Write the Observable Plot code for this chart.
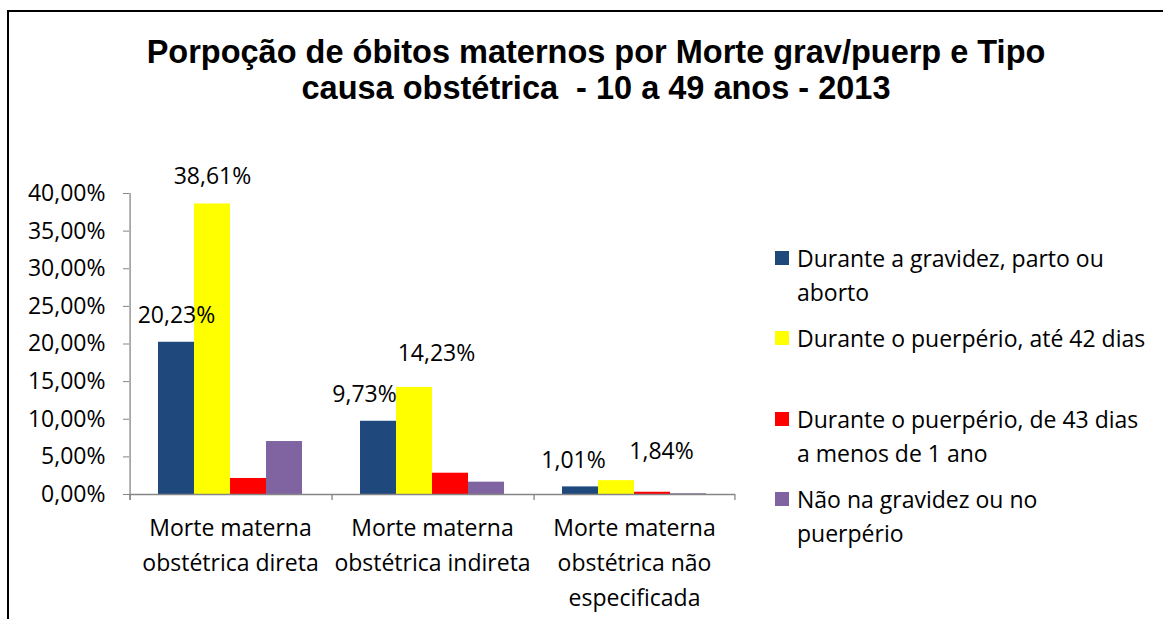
<!DOCTYPE html>
<html>
<head>
<meta charset="utf-8">
<script src="https://cdn.jsdelivr.net/npm/d3@7"></script>
<script src="https://cdn.jsdelivr.net/npm/@observablehq/plot@0.6"></script>
<style>
  html, body { margin: 0; padding: 0; background: #fff; }
  #root { position: relative; width: 1163px; height: 619px; overflow: hidden; background: #fff; font-family: "Open Sans", Lato, sans-serif; }
  #border { position: absolute; left: 7px; top: 10px; right: -10px; bottom: -10px; border-top: 2px solid #000; border-left: 2px solid #000; }
  #title { position: absolute; left: 0; width: 1192px; top: 34px; text-align: center; font-family: "Liberation Sans", Arial, sans-serif; font-weight: bold; font-size: 32.5px; line-height: 36px; color: #000; white-space: pre; }
  #chart { position: absolute; left: 0; top: 0; }
  #legend { position: absolute; left: 775px; top: 0; }
  .item { position: absolute; left: 0; white-space: pre; font-size: 23px; line-height: 34px; color: #000; padding-left: 22px; }
  .sw { position: absolute; left: 0; top: 10px; width: 14px; height: 14px; }
</style>
</head>
<body>
<div id="root">
  <div id="border"></div>
  <div id="title"></div>
  <div id="chart"></div>
  <div id="legend"></div>
</div>
<script>
const titleLines = ["Porpoção de óbitos maternos por Morte grav/puerp e Tipo", "causa obstétrica  - 10 a 49 anos - 2013"];
const categories = ["Morte materna obstétrica direta", "Morte materna obstétrica indireta", "Morte materna obstétrica não especificada"];
const categoryLabels = ["Morte materna\nobstétrica direta", "Morte materna\nobstétrica indireta", "Morte materna\nobstétrica não\nespecificada"];
const series = ["Durante a gravidez, parto ou aborto", "Durante o puerpério, até 42 dias", "Durante o puerpério, de 43 dias a menos de 1 ano", "Não na gravidez ou no puerpério"];
const legendLabels = ["Durante a gravidez, parto ou\naborto", "Durante o puerpério, até 42 dias", "Durante o puerpério, de 43 dias\na menos de 1 ano", "Não na gravidez ou no\npuerpério"];
const colors = ["#1F497D", "#FFFF00", "#FF0000", "#8064A2"];
const gravidezPartoAborto = [20.23, 9.73, 1.01];
const puerperioAte42 = [38.61, 14.23, 1.84];
const puerperio43a1ano = [2.13, 2.83, 0.30];
const naoGravidezPuerperio = [7.04, 1.64, 0.10];
const yTicks = [0, 5, 10, 15, 20, 25, 30, 35, 40];

const seriesValues = [gravidezPartoAborto, puerperioAte42, puerperio43a1ano, naoGravidezPuerperio];
const data = [];
categories.forEach((c, i) => series.forEach((s, j) => data.push({category: c, series: s, value: seriesValues[j][i], si: j, ci: i})));

const fmt = v => v.toFixed(2).replace(".", ",") + "%";
const axisGray = "#868686";
const font = "'Open Sans', Lato, sans-serif";

// layout
const W = 760, H = 619, mL = 128, mR = 25, mT = 193, mB = 125;
const PO = 0.772;
const facetW = (W - mL - mR) / categories.length;
const step = facetW / (series.length + 2 * PO);
const edgeOffset = PO * step + step / 2;

document.getElementById("title").textContent = titleLines.join("\n");

const labelFont = {fontSize: 23, fontFamily: font, fill: "#000"};
const labelData = data.filter(d => d.si < 2);
const lbl = (filter, dx, dy) => Plot.text(labelData.filter(filter), {fx: "category", x: "series", y: "value", text: d => fmt(d.value), dx, dy, ...labelFont});

const plot = Plot.plot({
  width: W, height: H,
  marginLeft: mL, marginRight: mR, marginTop: mT, marginBottom: mB,
  style: {fontFamily: font, color: "#000", background: "transparent", overflow: "visible"},
  fx: {domain: categories, padding: 0, axis: null, label: null},
  x: {domain: series, paddingInner: 0, paddingOuter: PO, axis: null, label: null},
  y: {domain: [0, 40], axis: null, label: null},
  color: {domain: series, range: colors},
  marks: [
    Plot.barY(data, {fx: "category", x: "series", y: "value", fill: "series"}),
    Plot.ruleY([0], {stroke: axisGray, strokeWidth: 1.3}),
    Plot.ruleX([categories[0]], {fx: d => d, x: () => series[0], y1: 40, y2: 0, insetBottom: -6, dx: -edgeOffset, stroke: axisGray, strokeWidth: 1.3}),
    Plot.ruleX(categories, {fx: d => d, x: () => series[0], y1: 0, y2: 0, insetBottom: -6, dx: -edgeOffset, stroke: axisGray, strokeWidth: 1.3}),
    Plot.ruleX([categories[categories.length - 1]], {fx: d => d, x: () => series[series.length - 1], y1: 0, y2: 0, insetBottom: -6, dx: edgeOffset, stroke: axisGray, strokeWidth: 1.3}),
    Plot.axisY({ticks: yTicks, tickFormat: fmt, tickSize: 6, tickPadding: 18, stroke: axisGray, fill: "#000", fontSize: 23, label: null}),
    Plot.axisFx({anchor: "bottom", tickSize: 0, tickPadding: 17, tickFormat: d => categoryLabels[categories.indexOf(d)], fontSize: 23, lineHeight: 1.52, fill: "#000", label: null}),
    lbl(d => d.ci === 0, 0, -27),
    lbl(d => d.ci === 1 && d.si === 0, -14, -27),
    lbl(d => d.ci === 1 && d.si === 1, 22, -34),
    lbl(d => d.ci === 2 && d.si === 0, -7, -26),
    lbl(d => d.ci === 2 && d.si === 1, 45, -29)
  ]
});
document.getElementById("chart").appendChild(plot);

// legend
const legendTops = [241, 321, 402, 482];
const legend = document.getElementById("legend");
series.forEach((s, j) => {
  const item = document.createElement("div");
  item.className = "item";
  item.style.top = legendTops[j] + "px";
  const sw = document.createElement("div");
  sw.className = "sw";
  sw.style.background = colors[j];
  item.appendChild(sw);
  item.appendChild(document.createTextNode(legendLabels[j]));
  legend.appendChild(item);
});
</script>
</body>
</html>
